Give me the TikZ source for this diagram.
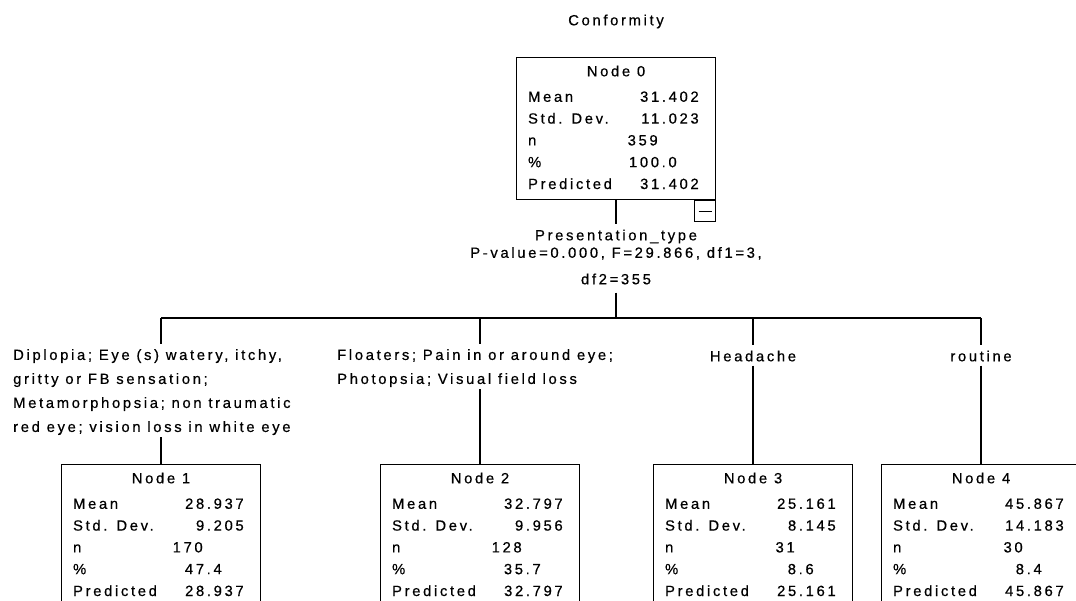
\documentclass[tikz,border=0pt]{standalone}
\usepackage{fontspec}
\setmainfont{Liberation Sans}[LetterSpace=18,FakeBold=0.5]
\usetikzlibrary{calc}
\newcommand\statrows[7]{%
  \node[txt] (#1t) at ($(#1.north)+(0,14)$) {Node #2};
  \node[txt,anchor=west] (#1ma) at ($(#1.north west)+(12,39.5)$) {Mean};
  \node[txt,anchor=east] (#1mb) at ($(#1.north west)+(183,39.5)$) {#3};
  \node[txt,anchor=west] (#1sa) at ($(#1.north west)+(12,61.3)$) {Std. Dev.};
  \node[txt,anchor=east] (#1sb) at ($(#1.north west)+(183,61.3)$) {#4};
  \node[txt,anchor=west] (#1na) at ($(#1.north west)+(12,83.1)$) {n};
  \node[txt,anchor=east] (#1nb) at ($(#1.north west)+(142,83.1)$) {#5};
  \node[txt,anchor=west] (#1pa) at ($(#1.north west)+(12,104.9)$) {\%};
  \node[txt,anchor=east] (#1pb) at ($(#1.north west)+(161,104.9)$) {#6};
  \node[txt,anchor=west] (#1ra) at ($(#1.north west)+(12,126.7)$) {Predicted};
  \node[txt,anchor=east] (#1rb) at ($(#1.north west)+(183,126.7)$) {#7};
}
\begin{document}
\begin{tikzpicture}[x=1pt,y=-1pt,font=\fontsize{14.8}{24}\selectfont,
  box/.style={draw,line width=1.2pt,minimum width=199,minimum height=#1,inner sep=0,anchor=north},
  txt/.style={inner sep=0,text height=10.6pt,text depth=0pt},
  link/.style={line width=1.2pt},
  lab/.style={inner sep=0,align=left,anchor=north west}]
\clip (0,0) rectangle (1076,600);
\fill[white] (0,0) rectangle (1076,600);

\node[txt] (title) at (616,20) {Conformity};
\node[box=142] (n0) at (616,57) {};
\statrows{n0}{0}{31.402}{11.023}{359}{100.0}{31.402}
\node[draw,line width=1.2pt,minimum size=21,inner sep=0,anchor=north east] (mb) at (n0.south east) {};
\draw[line width=1.2pt] ($(mb.center)+(-6.5,0)$) -- ($(mb.center)+(6.5,0)$);

\node[txt] (pt) at (616,235) {Presentation\_type};
\node[txt] (pv) at (616,252.5) {P-value=0.000, F=29.866, df1=3,};
\node[txt] (df) at (616,279) {df2=355};
\coordinate (j) at (616,318);
\draw[link,shorten >=6] (n0.south) -- (pt.north);
\draw[link,shorten <=8] (df.south) -- (j);

\coordinate (b1) at (161,318);
\coordinate (b2) at (480,318);
\coordinate (b3) at (753,318);
\coordinate (b4) at (981,318);
\draw[link] (b1) -- (b4);

\node[box=160] (n1) at (161,464) {};
\node[box=160] (n2) at (480,464) {};
\node[box=160] (n3) at (753,464) {};
\node[box=160] (n4) at (981,464) {};
\statrows{n1}{1}{28.937}{9.205}{170}{47.4}{28.937}
\statrows{n2}{2}{32.797}{9.956}{128}{35.7}{32.797}
\statrows{n3}{3}{25.161}{8.145}{31}{8.6}{25.161}
\statrows{n4}{4}{45.867}{14.183}{30}{8.4}{45.867}

\node[lab] (l1) at (13,349) {Diplopia; Eye (s) watery, itchy,\\gritty or FB sensation;\\Metamorphopsia; non traumatic\\red eye; vision loss in white eye};
\node[lab] (l2) at (337,349) {Floaters; Pain in or around eye;\\Photopsia; Visual field loss};
\node[txt] (l3) at (753,356) {Headache};
\node[txt] (l4) at (981,356) {routine};

\draw[link,shorten >=5] (b1) -- (b1 |- l1.north);
\draw[link,shorten <=2] (b1 |- l1.south) -- (n1.north);
\draw[link,shorten >=5] (b2) -- (b2 |- l2.north);
\draw[link,shorten <=2] (b2 |- l2.south) -- (n2.north);
\draw[link,shorten >=6] (b3) -- (l3.north);
\draw[link,shorten <=4] (l3.south) -- (n3.north);
\draw[link,shorten >=6] (b4) -- (l4.north);
\draw[link,shorten <=4] (l4.south) -- (n4.north);
\end{tikzpicture}
\end{document}
